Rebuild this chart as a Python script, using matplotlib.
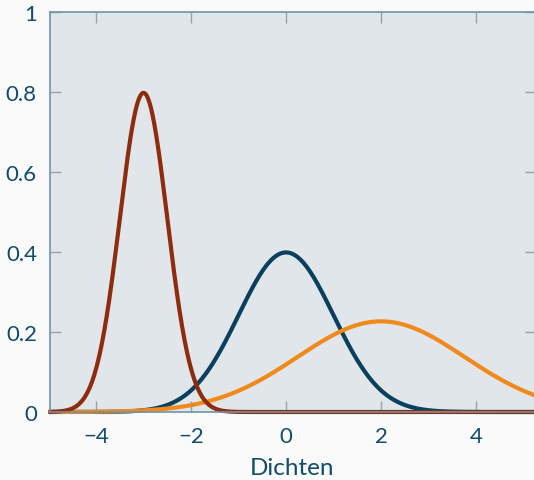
import numpy as np
import matplotlib
matplotlib.use("Agg")
import matplotlib.pyplot as plt

# normal densities: (mean, sd)
means = [0.0, 2.0, -3.0]
sds = [1.0, 1.76, 0.5]
colors = ["#0b3f5e", "#f08a1c", "#8e2c0e"]

xticks = [-4, -2, 0, 2, 4]
yticks = [0, 0.2, 0.4, 0.6, 0.8, 1]
ylabels = ["0", "0.2", "0.4", "0.6", "0.8", "1"]

textc = "#0f4c6e"
plt.rcParams['font.family'] = ['Lato', 'DejaVu Sans']

fig = plt.figure(figsize=(5.34, 4.81), dpi=100, facecolor="#fafafa")
ax = fig.add_axes([49.5 / 534, 68 / 481, 486 / 534, 400 / 481])
ax.set_facecolor("#e1e6ea")

x = np.linspace(-5, 5.3, 800)
for m, s, c in zip(means, sds, colors):
    y = np.exp(-0.5 * ((x - m) / s) ** 2) / (s * np.sqrt(2 * np.pi))
    ax.plot(x, y, color=c, lw=3.0, solid_capstyle="butt", clip_on=False)

ax.set_xlim(-4.98, -4.98 + 486 / 47.5)
ax.set_ylim(0, 1)
ax.set_xticks(xticks)
ax.set_xticklabels(["\u2212" + str(-t) if t < 0 else str(t) for t in xticks])
ax.set_yticks(yticks)
ax.set_yticklabels(ylabels)

ax.tick_params(direction="in", length=8, width=1, color="#9aa0a6",
               labelcolor=textc, labelsize=16, top=True, right=True)
ax.tick_params(axis="x", pad=10)
ax.tick_params(axis="y", pad=9)
for side in ["left", "top", "bottom"]:
    ax.spines[side].set_color("#6f93a8")
    ax.spines[side].set_linewidth(1.2)
ax.spines["right"].set_visible(False)

ax.set_xlabel("Dichten", color=textc, fontsize=17.5, labelpad=8)

fig.savefig("out.png", dpi=100, facecolor=fig.get_facecolor())
